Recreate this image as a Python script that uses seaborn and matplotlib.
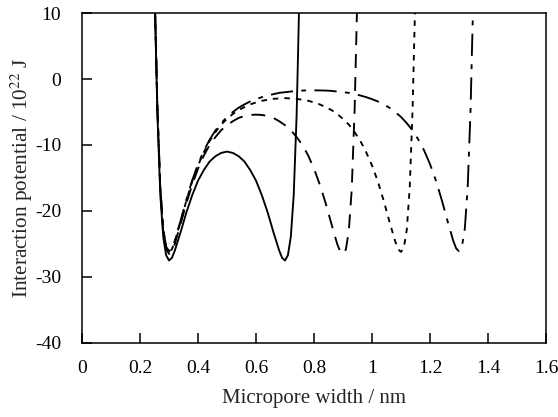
import matplotlib
matplotlib.use("Agg")
import matplotlib.pyplot as plt
import pandas as pd
import seaborn as sns

# Slit-pore interaction potential profiles for four pore widths
x_w10 = [0.252, 0.255, 0.26, 0.27, 0.28, 0.29, 0.30, 0.31, 0.32, 0.34, 0.36, 0.38,
         0.40, 0.42, 0.44, 0.46, 0.48, 0.50, 0.52, 0.54, 0.56, 0.58, 0.60, 0.62,
         0.64, 0.66, 0.68, 0.69, 0.70, 0.71, 0.72, 0.73, 0.74, 0.745, 0.748]
y_w10 = [10, 3.9, -5.5, -17.6, -23.9, -26.7, -27.5, -27.1, -26.0, -23.2, -20.2, -17.6,
         -15.4, -13.8, -12.5, -11.7, -11.2, -11.0, -11.2, -11.7, -12.5, -13.8, -15.4, -17.6,
         -20.2, -23.2, -26.0, -27.1, -27.5, -26.7, -23.9, -17.6, -5.5, 3.9, 10]

x_w12 = [0.252, 0.255, 0.26, 0.27, 0.28, 0.29, 0.30, 0.31, 0.32, 0.34, 0.36, 0.38,
         0.40, 0.42, 0.44, 0.46, 0.48, 0.50, 0.52, 0.54, 0.56, 0.58, 0.60,
         0.62, 0.64, 0.66, 0.68, 0.70, 0.72, 0.74, 0.76, 0.78, 0.80, 0.82, 0.84,
         0.86, 0.88, 0.89, 0.90, 0.91, 0.92, 0.93, 0.94, 0.945, 0.948]
y_w12 = [10, 4.6, -4.7, -16.8, -23.0, -25.8, -26.5, -26.1, -25.0, -21.95, -18.8, -16.0,
         -13.6, -11.6, -10.0, -8.8, -7.75, -7.0, -6.4, -5.9, -5.6, -5.45, -5.4,
         -5.45, -5.6, -5.9, -6.4, -7.0, -7.75, -8.8, -10.0, -11.6, -13.6, -16.0, -18.8,
         -21.95, -25.0, -26.1, -26.5, -25.8, -23.0, -16.8, -4.7, 4.6, 10]

x_w14 = [0.252, 0.255, 0.26, 0.27, 0.28, 0.29, 0.30, 0.31, 0.32, 0.34, 0.36, 0.38,
         0.40, 0.42, 0.44, 0.46, 0.48, 0.50, 0.52, 0.54, 0.56, 0.58, 0.60, 0.62,
         0.64, 0.66, 0.68, 0.70,
         0.72, 0.74, 0.76, 0.78, 0.80, 0.82, 0.84, 0.86, 0.88, 0.90, 0.92, 0.94,
         0.96, 0.98, 1.00, 1.02, 1.04, 1.06, 1.08, 1.09, 1.10, 1.11, 1.12, 1.13,
         1.14, 1.145, 1.148]
y_w14 = [10, 4.8, -4.5, -16.5, -22.8, -25.5, -26.2, -25.8, -24.6, -21.6, -18.4, -15.5,
         -13.1, -11.1, -9.4, -8.05, -6.9, -6.05, -5.3, -4.7, -4.25, -3.85, -3.55, -3.3,
         -3.15, -3.0, -2.95, -2.9,
         -2.95, -3.0, -3.15, -3.3, -3.55, -3.85, -4.25, -4.7, -5.3, -6.05, -6.9, -8.05,
         -9.4, -11.1, -13.1, -15.5, -18.4, -21.6, -24.6, -25.8, -26.2, -25.5, -22.8, -16.5,
         -4.5, 4.8, 10]

x_w16 = [0.252, 0.255, 0.26, 0.27, 0.28, 0.29, 0.30, 0.31, 0.32, 0.34, 0.36, 0.38,
         0.40, 0.42, 0.44, 0.46, 0.48, 0.50, 0.52, 0.54, 0.56, 0.58, 0.60, 0.62,
         0.64, 0.66, 0.68, 0.70, 0.72, 0.74, 0.76, 0.78, 0.80,
         0.82, 0.84, 0.86, 0.88, 0.90, 0.92, 0.94, 0.96, 0.98, 1.00, 1.02, 1.04,
         1.06, 1.08, 1.10, 1.12, 1.14, 1.16, 1.18, 1.20, 1.22, 1.24, 1.26, 1.28,
         1.29, 1.30, 1.31, 1.32, 1.33, 1.34, 1.345, 1.348]
y_w16 = [10, 4.9, -4.4, -16.4, -22.7, -25.4, -26.1, -25.65, -24.5, -21.45, -18.25, -15.35,
         -12.9, -10.86, -9.2, -7.8, -6.7, -5.75, -5.0, -4.35, -3.85, -3.4, -3.05, -2.75,
         -2.5, -2.3, -2.1, -2.0, -1.9, -1.8, -1.75, -1.73, -1.72,
         -1.73, -1.75, -1.8, -1.9, -2.0, -2.1, -2.3, -2.5, -2.75, -3.05, -3.4, -3.85,
         -4.35, -5.0, -5.75, -6.7, -7.8, -9.2, -10.86, -12.9, -15.35, -18.25, -21.45, -24.5,
         -25.65, -26.1, -25.4, -22.7, -16.4, -4.4, 4.9, 10]

pore_labels = ["1.0 nm", "1.2 nm", "1.4 nm", "1.6 nm"]
x_ticks = [0, 0.2, 0.4, 0.6, 0.8, 1.0, 1.2, 1.4, 1.6]
x_tick_labels = ["0", "0.2", "0.4", "0.6", "0.8", "1", "1.2", "1.4", "1.6"]
y_ticks = [10, 0, -10, -20, -30, -40]

frames = []
for lab, xs, ys in zip(pore_labels, [x_w10, x_w12, x_w14, x_w16],
                       [y_w10, y_w12, y_w14, y_w16]):
    frames.append(pd.DataFrame({"width": xs, "potential": ys, "pore": lab}))
df = pd.concat(frames, ignore_index=True)

sns.set_style("ticks")
plt.rcParams["font.family"] = ["Liberation Serif", "DejaVu Serif"]
plt.rcParams["lines.scale_dashes"] = False
plt.rcParams["mathtext.fontset"] = "stix"

fig = plt.figure(figsize=(5.58, 4.17), dpi=100)
ax = fig.add_axes([0.147, 0.1775, 0.8315, 0.7913])

dash_map = {
    "1.0 nm": "",
    "1.2 nm": (10, 6.5),
    "1.4 nm": (4, 4.3),
    "1.6 nm": (16, 6, 3.5, 6),
}
sns.lineplot(data=df, x="width", y="potential", style="pore", dashes=dash_map,
             units="pore", estimator=None, sort=False, color="black",
             linewidth=1.35, legend=False, ax=ax)

ax.set_xlim(0, 1.6)
ax.set_ylim(-40, 10)
ax.set_xticks(x_ticks)
ax.set_xticklabels(x_tick_labels)
ax.set_yticks(y_ticks)
ax.set_yticklabels([str(v) for v in y_ticks])
ax.tick_params(direction="in", length=7.5, width=1.1, labelsize=14,
               colors="black", top=False, right=False)
ax.tick_params(axis="x", pad=12)
ax.tick_params(axis="y", pad=15)
for s in ax.spines.values():
    s.set_visible(True)
    s.set_linewidth(1.1)
    s.set_color("black")

ax.set_xlabel("Micropore width / nm", fontsize=15, labelpad=9)
ax.set_ylabel("Interaction potential / 10$^{22}$ J", fontsize=15.3, labelpad=0)

fig.savefig("out.png", dpi=100)
